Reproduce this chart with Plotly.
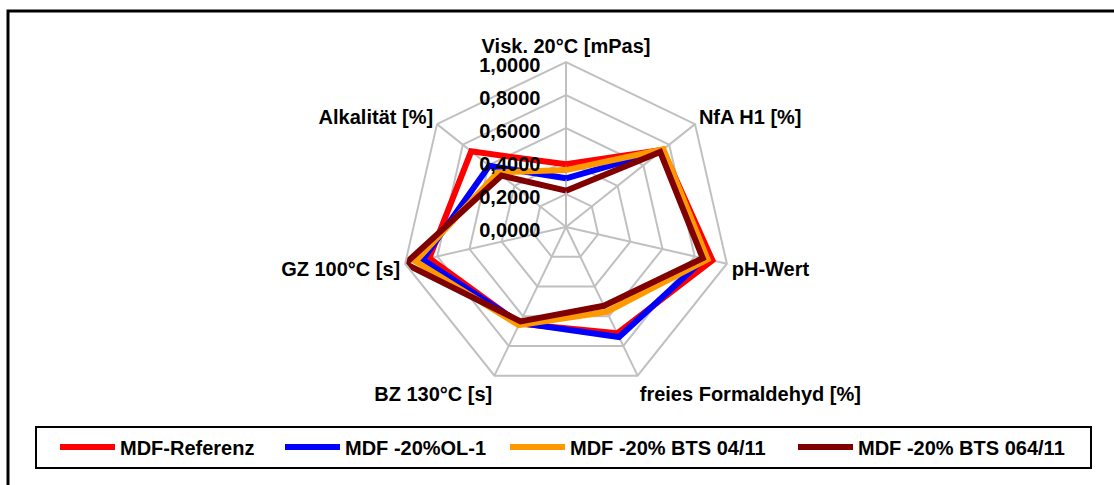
import plotly.graph_objects as go

# Radar axes (clockwise from the top)
categories = [
    "Visk. 20°C [mPas]",
    "NfA H1 [%]",
    "pH-Wert",
    "freies Formaldehyd [%]",
    "BZ 130°C [s]",
    "GZ 100°C [s]",
    "Alkalität [%]",
]

# Normalised values per recipe
mdf_referenz = [0.38, 0.75, 0.91, 0.715, 0.65, 0.85, 0.735]
mdf_ol1 = [0.295, 0.74, 0.86, 0.74, 0.645, 0.89, 0.595]
mdf_bts_04_11 = [0.345, 0.755, 0.88, 0.57, 0.66, 0.935, 0.53]
mdf_bts_064_11 = [0.22, 0.73, 0.85, 0.53, 0.635, 1.0, 0.50]

series = [
    ("MDF-Referenz", mdf_referenz, "#FF0000"),
    ("MDF -20%OL-1", mdf_ol1, "#0000FF"),
    ("MDF -20% BTS 04/11", mdf_bts_04_11, "#FF9900"),
    ("MDF -20% BTS 064/11", mdf_bts_064_11, "#800000"),
]

W, H = 1114, 485
cx, cy, R = 566, 227, 165

FONT = "Liberation Sans, Arial, sans-serif"
FS = 20

# left edge (px) of each legend entry along the bottom row
legend_left = [55, 280, 505, 793]

fig = go.Figure()
legend_layout = {}
for i, ((name, vals, color), left) in enumerate(zip(series, legend_left)):
    key = "legend" if i == 0 else f"legend{i + 1}"
    fig.add_trace(go.Scatterpolar(
        r=vals + vals[:1],
        theta=categories + categories[:1],
        mode="lines",
        name=name,
        line=dict(color=color, width=6),
        legend=key,
        showlegend=True,
    ))
    legend_layout[key] = dict(
        orientation="h",
        x=left / W,
        xanchor="left",
        y=(H - 447) / H,
        yanchor="middle",
        font=dict(family=FONT, size=FS, color="black", weight="bold"),
        bgcolor="rgba(0,0,0,0)",
        borderwidth=0,
        itemwidth=55,
    )

fig.update_layout(
    width=W,
    height=H,
    margin=dict(l=0, r=0, t=0, b=0),
    paper_bgcolor="white",
    plot_bgcolor="white",
    separators=",.",
    showlegend=True,
    font=dict(family=FONT, size=FS, color="black"),
    polar=dict(
        domain=dict(
            x=[(cx - R) / W, (cx + R) / W],
            y=[(H - cy - R) / H, (H - cy + R) / H],
        ),
        bgcolor="white",
        gridshape="linear",
        angularaxis=dict(
            direction="clockwise",
            rotation=90,
            showline=True,
            linecolor="#C0C0C0",
            linewidth=2,
            gridcolor="#C0C0C0",
            gridwidth=2,
            ticks="",
            tickfont=dict(family=FONT, size=FS, color="black", weight="bold"),
        ),
        radialaxis=dict(
            range=[0, 1],
            dtick=0.2,
            tick0=0,
            tickformat=".4f",
            ticksuffix="\u00a0\u00a0",
            angle=90,
            side="counterclockwise",
            showline=False,
            ticks="",
            gridcolor="#C0C0C0",
            gridwidth=2,
            tickfont=dict(family=FONT, size=FS, color="black", weight="bold"),
        ),
    ),
    shapes=[
        # outer chart frame
        dict(type="rect", xref="paper", yref="paper",
             x0=8 / W, x1=1.02, y0=-0.02, y1=1 - 11 / H,
             line=dict(color="black", width=3), fillcolor="rgba(0,0,0,0)"),
        # legend frame
        dict(type="rect", xref="paper", yref="paper",
             x0=36 / W, x1=1091 / W, y0=1 - 468 / H, y1=1 - 427 / H,
             line=dict(color="black", width=2), fillcolor="rgba(0,0,0,0)"),
    ],
    **legend_layout,
)

fig.write_html("out.html")
